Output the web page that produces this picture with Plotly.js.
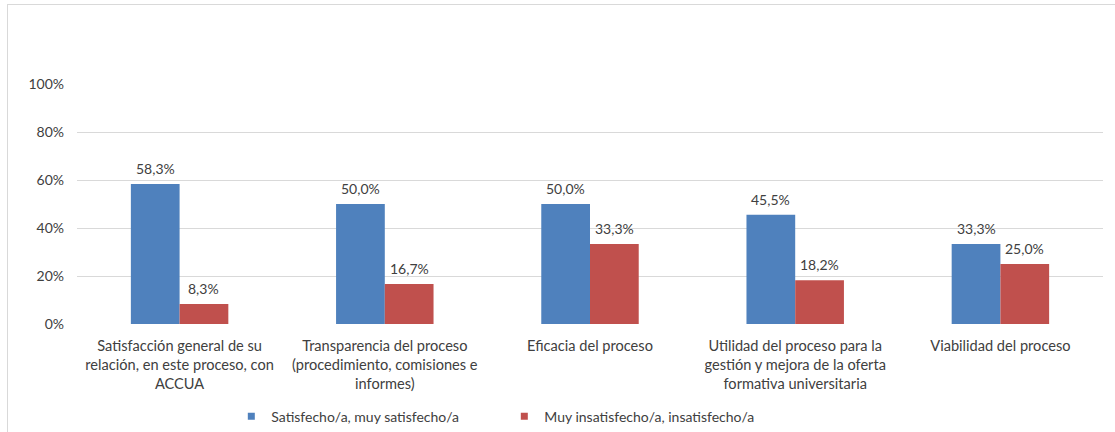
<!DOCTYPE html>
<html>
<head>
<meta charset="utf-8">
<script src="https://cdn.plot.ly/plotly-3.0.1.min.js"></script>
<style>
  html, body { margin: 0; padding: 0; overflow: hidden; background: #fff; }
  #wrap { position: relative; width: 1115px; height: 432px; }
  #chart { width: 1115px; height: 432px; }
  #frame { position: absolute; left: 7px; top: 4px; width: 1120px; height: 440px;
           border-left: 1px solid #d9d9d9; border-top: 1px solid #d9d9d9; pointer-events: none; }
</style>
</head>
<body>
<div id="wrap">
  <div id="chart"></div>
  <div id="frame"></div>
</div>
<script>
const categories = [
  "Satisfacción general de su<br>relación, en este proceso, con<br>ACCUA",
  "Transparencia del proceso<br>(procedimiento, comisiones e<br>informes)",
  "Eficacia del proceso",
  "Utilidad del proceso para la<br>gestión y mejora de la oferta<br>formativa universitaria",
  "Viabilidad del proceso"
];
const seriesNames = ["Satisfecho/a, muy satisfecho/a", "Muy insatisfecho/a, insatisfecho/a"];
const satisfechos = [58.3, 50.0, 50.0, 45.5, 33.3];
const insatisfechos = [8.3, 16.7, 33.3, 18.2, 25.0];
const colors = ["#4F81BD", "#C0504D"];
const yTickVals = [0, 20, 40, 60, 80, 100];
const yTickLabels = ["0%", "20%", "40%", "60%", "80%", "100%"];

const font = "Lato, 'Liberation Sans', sans-serif";
const textColor = "#404040";
const fmt = v => v.toFixed(1).replace('.', ',') + '%';

const series = [satisfechos, insatisfechos];
const traces = [];
series.forEach((vals, i) => {
  traces.push({
    type: 'bar', x: categories, y: vals, name: seriesNames[i],
    marker: { color: colors[i] }, showlegend: false, hoverinfo: 'skip'
  });
});
series.forEach((vals, i) => {
  traces.push({
    type: 'scatter', mode: 'markers', x: [null], y: [null], name: seriesNames[i],
    marker: { color: colors[i], symbol: 'square', size: 7 }, showlegend: true
  });
});

const bargap = 0.525;
const plotW = 1115 - 77 - 12;
const barW = plotW / categories.length * (1 - bargap) / 2;
const annotations = [];
series.forEach((vals, i) => {
  vals.forEach((v, j) => {
    annotations.push({
      x: categories[j], y: v, xref: 'x', yref: 'y', text: fmt(v), showarrow: false,
      yanchor: 'bottom', xshift: (i === 0 ? -1 : 1) * barW / 2, yshift: 5,
      font: { family: font, size: 14, color: textColor }
    });
  });
});

const layout = {
  width: 1115, height: 432,
  margin: { l: 77, r: 12, t: 84, b: 108, autoexpand: false },
  paper_bgcolor: '#fff', plot_bgcolor: '#fff',
  font: { family: font, size: 14, color: textColor },
  barmode: 'group', bargap: bargap, bargroupgap: 0,
  xaxis: { type: 'category', showgrid: false, showline: false, ticks: '', zeroline: false,
           automargin: false,
           tickfont: { family: font, size: 14.6, color: textColor }, ticklabelstandoff: 11 },
  yaxis: { range: [0, 100], tickmode: 'array', tickvals: yTickVals, ticktext: yTickLabels,
           showgrid: true, gridcolor: '#d9d9d9', automargin: false,
           gridwidth: 1, zeroline: false, showline: false, ticks: '',
           tickfont: { family: font, size: 14, color: textColor }, ticklabelstandoff: 12 },
  legend: { orientation: 'h', x: 0.1504, xanchor: 'left', y: -0.386, yanchor: 'middle',
            font: { family: font, size: 14, color: textColor }, entrywidth: 228, entrywidthmode: 'pixels',
            itemwidth: 30 },
  annotations: annotations,
  showlegend: true
};

Plotly.newPlot('chart', traces, layout, { displayModeBar: false, staticPlot: true });
</script>
</body>
</html>
